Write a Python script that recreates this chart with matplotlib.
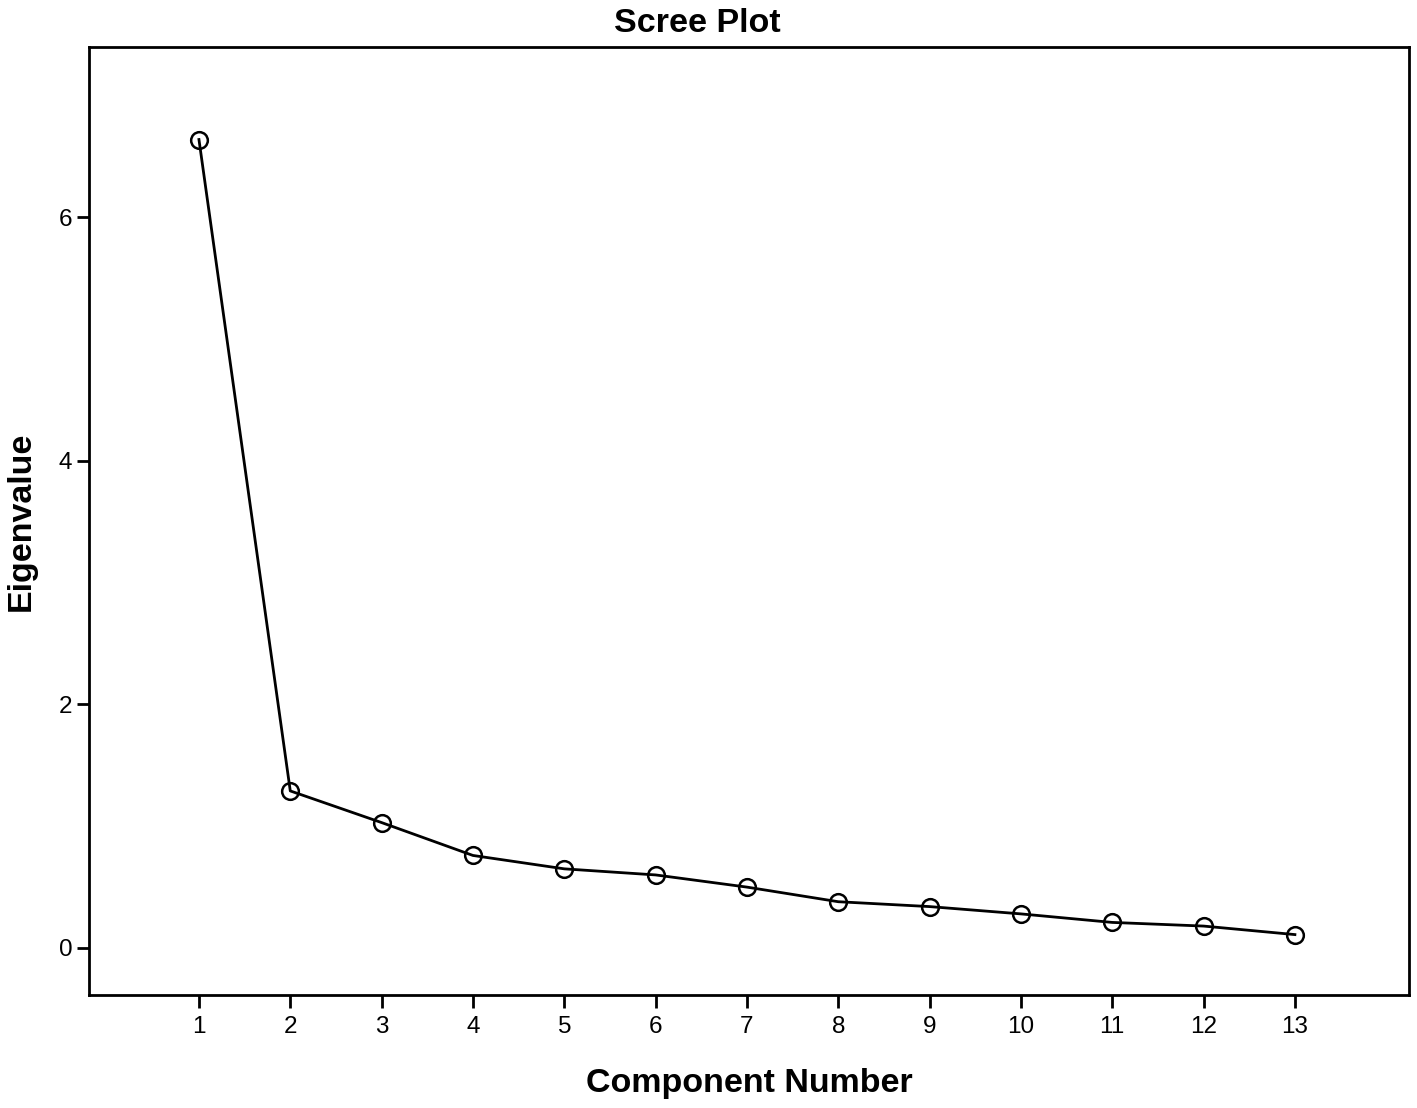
import matplotlib
matplotlib.use("Agg")
import matplotlib.pyplot as plt

plt.rcParams['font.family'] = ['Liberation Sans', 'DejaVu Sans']

# Scree plot data
components = list(range(1, 14))
eigenvalues = [6.64, 1.29, 1.03, 0.76, 0.65, 0.60, 0.50, 0.38, 0.34, 0.28, 0.21, 0.18, 0.11]
y_ticks = [0, 2, 4, 6]

fig = plt.figure(figsize=(14.17, 11.08), dpi=100)
ax = fig.add_axes([0.0628, 0.102, 0.9316, 0.8556])

ax.plot(components, eigenvalues, color='black', linewidth=2,
        marker='o', markersize=12, markerfacecolor='none',
        markeredgecolor='black', markeredgewidth=1.8)

ax.set_xlim(-0.204, 14.25)
ax.set_ylim(-0.386, 7.40)
ax.set_xticks(components)
ax.set_yticks(y_ticks)
ax.tick_params(direction='out', length=9, width=2, labelsize=17.5)
ax.tick_params(axis='x', pad=6)
ax.tick_params(axis='y', pad=3)

for s in ax.spines.values():
    s.set_linewidth(2)

ax.set_title('Scree Plot', fontsize=24.5, fontweight='bold', pad=11, x=0.4606)
ax.set_xlabel('Component Number', fontsize=24.5, fontweight='bold', labelpad=22)
ax.set_ylabel('Eigenvalue', fontsize=24.5, fontweight='bold', labelpad=16)

fig.savefig('out.png', dpi=100)
